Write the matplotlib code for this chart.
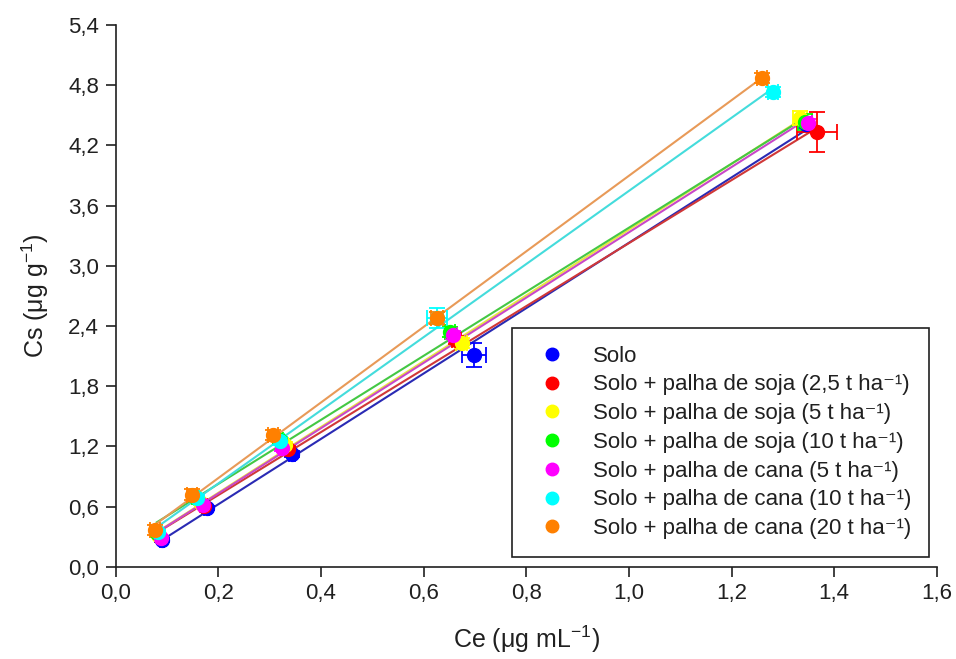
import numpy as np
import matplotlib.pyplot as plt
from matplotlib.ticker import FuncFormatter, MultipleLocator

plt.rcParams['font.family'] = ['Liberation Sans', 'DejaVu Sans']
plt.rcParams['mathtext.fontset'] = 'custom'
plt.rcParams['mathtext.rm'] = 'Liberation Sans'
plt.rcParams['mathtext.it'] = 'Liberation Sans:italic'
plt.rcParams['mathtext.bf'] = 'Liberation Sans:bold'

labels = ['Solo',
          'Solo + palha de soja (2,5 t ha⁻¹)',
          'Solo + palha de soja (5 t ha⁻¹)',
          'Solo + palha de soja (10 t ha⁻¹)',
          'Solo + palha de cana (5 t ha⁻¹)',
          'Solo + palha de cana (10 t ha⁻¹)',
          'Solo + palha de cana (20 t ha⁻¹)']

# Ce (ug/mL) and Cs (ug/g) for each treatment
ce_solo = [0.090, 0.177, 0.343, 0.698, 1.345]
cs_solo = [0.27, 0.59, 1.12, 2.11, 4.41]
ce_soja25 = [0.086, 0.173, 0.335, 0.664, 1.366]
cs_soja25 = [0.30, 0.61, 1.17, 2.26, 4.33]
ce_soja5 = [0.083, 0.164, 0.330, 0.674, 1.333]
cs_soja5 = [0.32, 0.65, 1.21, 2.23, 4.47]
ce_soja10 = [0.080, 0.154, 0.320, 0.651, 1.343]
cs_soja10 = [0.34, 0.70, 1.26, 2.34, 4.43]
ce_cana5 = [0.088, 0.170, 0.324, 0.657, 1.349]
cs_cana5 = [0.29, 0.62, 1.18, 2.31, 4.42]
ce_cana10 = [0.082, 0.158, 0.320, 0.626, 1.281]
cs_cana10 = [0.35, 0.69, 1.25, 2.48, 4.73]
ce_cana20 = [0.076, 0.148, 0.306, 0.626, 1.259]
cs_cana20 = [0.37, 0.72, 1.31, 2.48, 4.87]

# standard deviations
xerr_solo = [0.004, 0.005, 0.006, 0.023, 0.008]
yerr_solo = [0.02, 0.02, 0.03, 0.12, 0.04]
xerr_soja25 = [0.004, 0.005, 0.006, 0.008, 0.039]
yerr_soja25 = [0.02, 0.02, 0.03, 0.04, 0.20]
xerr_soja5 = [0.004, 0.005, 0.006, 0.010, 0.013]
yerr_soja5 = [0.02, 0.02, 0.03, 0.05, 0.07]
xerr_soja10 = [0.004, 0.005, 0.006, 0.010, 0.014]
yerr_soja10 = [0.02, 0.02, 0.03, 0.05, 0.08]
xerr_cana5 = [0.004, 0.005, 0.006, 0.008, 0.008]
yerr_cana5 = [0.02, 0.02, 0.03, 0.04, 0.04]
xerr_cana10 = [0.004, 0.005, 0.008, 0.020, 0.010]
yerr_cana10 = [0.02, 0.03, 0.04, 0.10, 0.05]
xerr_cana20 = [0.010, 0.010, 0.010, 0.012, 0.010]
yerr_cana20 = [0.05, 0.05, 0.05, 0.06, 0.05]

ce_all = [ce_solo, ce_soja25, ce_soja5, ce_soja10, ce_cana5, ce_cana10, ce_cana20]
cs_all = [cs_solo, cs_soja25, cs_soja5, cs_soja10, cs_cana5, cs_cana10, cs_cana20]
xerr_all = [xerr_solo, xerr_soja25, xerr_soja5, xerr_soja10, xerr_cana5, xerr_cana10, xerr_cana20]
yerr_all = [yerr_solo, yerr_soja25, yerr_soja5, yerr_soja10, yerr_cana5, yerr_cana10, yerr_cana20]

marker_colors = ['#0000ff', '#ff0000', '#ffff00', '#00ff00', '#ff00ff', '#00ffff', '#ff8000']
line_colors = ['#2a2ab4', '#d03838', '#e6e640', '#44c844', '#c848c8', '#44dcdc', '#e89a58']

fig = plt.figure(figsize=(9.56, 6.59), dpi=100)
ax = fig.add_axes([0.121, 0.140, 0.859, 0.822])

# linear isotherm fits
for ce, cs, lc in zip(ce_all, cs_all, line_colors):
    slope, icpt = np.polyfit(ce, cs, 1)
    xx = np.array([min(ce), max(ce)])
    ax.plot(xx, slope * xx + icpt, color=lc, lw=1.5, zorder=2)

for ce, cs, xe, ye, mc, lab in zip(ce_all, cs_all, xerr_all, yerr_all, marker_colors, labels):
    ax.errorbar(ce, cs, xerr=xe, yerr=ye, fmt='o', color=mc, ecolor=mc,
                ms=10, mec=mc, elinewidth=1.3, capsize=6, capthick=1.3,
                zorder=3, label=lab)

ax.set_xlim(0, 1.6)
ax.set_ylim(0, 5.4)
ax.xaxis.set_major_locator(MultipleLocator(0.2))
ax.yaxis.set_major_locator(MultipleLocator(0.6))
comma = FuncFormatter(lambda v, p: f'{v:.1f}'.replace('.', ','))
ax.xaxis.set_major_formatter(comma)
ax.yaxis.set_major_formatter(comma)

for s in ['top', 'right']:
    ax.spines[s].set_visible(False)
for s in ['left', 'bottom']:
    ax.spines[s].set_linewidth(1.2)
    ax.spines[s].set_color('#202020')
ax.tick_params(direction='out', length=7, width=1.2, labelsize=16, colors='#202020', pad=5)

ax.set_xlabel('Ce (μg mL$^{-1}$)', fontsize=18, labelpad=14, color='#202020')
ax.set_ylabel('Cs (μg g$^{-1}$)', fontsize=18, labelpad=12, color='#202020')

handles, _ = ax.get_legend_handles_labels()
handles = [h[0] for h in handles]
leg = ax.legend(handles, labels, loc='lower right', bbox_to_anchor=(0.991, 0.018),
                fontsize=16, frameon=True, fancybox=False, edgecolor='#202020',
                framealpha=1, handlelength=2.0, handletextpad=0.85, labelspacing=0.35,
                borderpad=0.8, borderaxespad=0, markerscale=0.9)
leg.get_frame().set_linewidth(1.2)
for t in leg.get_texts():
    t.set_color('#202020')

fig.savefig('out.png', dpi=100)
